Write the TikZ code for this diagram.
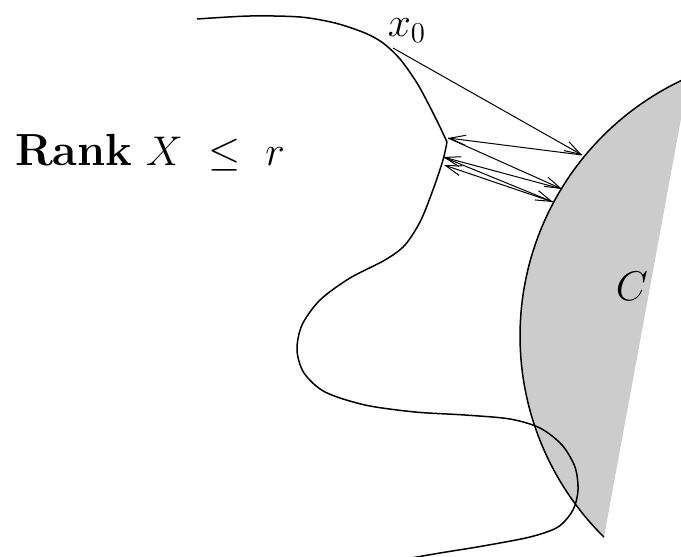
\documentclass[tikz,border=0pt]{standalone}
\usepackage{amsmath}
\usetikzlibrary{arrows.meta}

\begin{document}
\begin{tikzpicture}[
  x=0.5pt, y=-0.5pt,
  arr/.style={-{Straight Barb[length=8pt,width=5pt]}, line width=0.5pt},
  bd/.style={line width=0.75pt},
  lbl/.style={font=\fontsize{22.5}{27}\selectfont, anchor=base, inner sep=0pt},
]
\useasboundingbox (0,0) rectangle (681,557);
\clip (0,0) rectangle (681,557);

% the set C
\fill[black!20] plot[domain=110:225.3, samples=80]
  ({803+283*cos(\x)}, {336-283*sin(\x)}) -- (690,70) -- cycle;
\draw[bd] plot[domain=110:225.3, samples=80]
  ({803+283*cos(\x)}, {336-283*sin(\x)});

% the rank set
\draw[bd] plot[smooth] coordinates {(197,19) (250,16) (300,17) (335,23)
  (365,33) (383,43) (400,59) (417,83) (430,107) (440,127) (447,142)};
\draw[bd] plot[smooth] coordinates {(447,142) (443,160) (434,187)
  (421,220) (405,245) (385,260) (350,278) (320,300) (302,325) (297,350)
  (304,373) (325,392) (365,405) (415,412) (465,415) (510,419) (540,428)
  (562,445) (575,467) (578,490) (573,510) (558,527) (530,537) (483,546)
  (440,553) (400,560)};

% iterates
\coordinate (x0) at (393,48);
\coordinate (c1) at (582,155);
\coordinate (x1) at (448,138);
\coordinate (c2) at (562,189);
\coordinate (x2) at (443,157);
\coordinate (c3) at (553,202);
\coordinate (x3) at (444,165);

\draw[arr] (x0) -- (c1);
\draw[arr] (c1) -- (x1);
\draw[arr] (x1) -- (c2);
\draw[arr] (c2) -- (x2);
\draw[arr] (x2) -- (c3);
\draw[arr] (c3) -- (x3);

\node[lbl] (x0lbl) at (407,36) {$x_0$};
\node[lbl] (rank) at (150,165) {\textbf{Rank} $X\ \le\ r$};
\node[lbl] (setC) at (632,300) {$C$};

\end{tikzpicture}
\end{document}
